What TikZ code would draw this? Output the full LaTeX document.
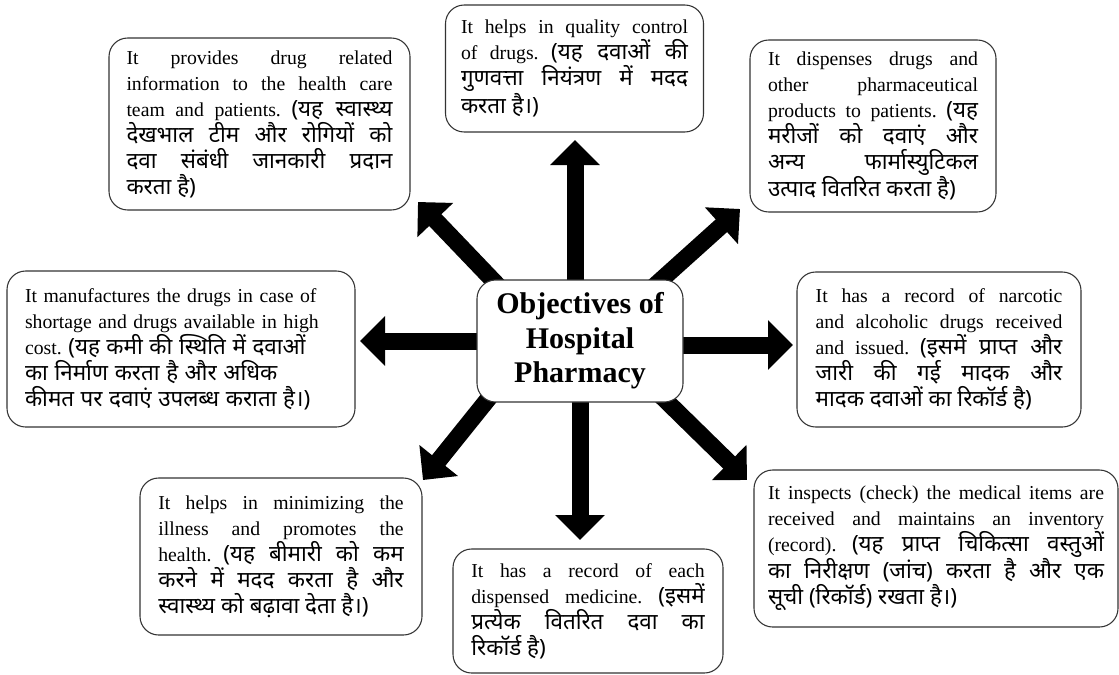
\documentclass[tikz,border=0pt]{standalone}
\usepackage{fontspec}
\setmainfont{Liberation Serif}
\newfontfamily\hi[Script=Devanagari,Scale=1.135]{Noto Sans}
\usetikzlibrary{arrows.meta,backgrounds}
\hyphenpenalty=10000
\exhyphenpenalty=10000
\tolerance=10000
\hbadness=10000
\lineskiplimit=-20pt
\frenchspacing
\tikzset{
  box/.style={draw=black!80, line width=0.8pt, rounded corners=14pt, fill=white,
    inner sep=0pt, anchor=center, align=justify,
    font=\fontsize{14.8}{19.5}\selectfont},
  titlebox/.style={box, align=center,
    font=\bfseries\fontsize{22.5}{26}\selectfont},
  bigarrow/.style={line width=12.75pt, -{Triangle[width=36pt,length=18.75pt]},
    shorten <=-14pt}
}
\begin{document}
\begin{tikzpicture}[x=0.75pt,y=-0.75pt]
\useasboundingbox (0,0) rectangle (1119,674);

\node[titlebox, minimum width=154.5pt, minimum height=91.5pt] (c) at (580,341)
  {Objectives of\\Hospital\\Pharmacy};

\node[box, minimum width=225.75pt, minimum height=129pt, text width=199.5pt] (b1) at (259.5,124)
  {It provides drug related \linebreak information to the health care \linebreak team and patients. {\hi(यह स्वास्थ्य \linebreak देखभाल टीम और रोगियों को \linebreak दवा संबंधी जानकारी प्रदान \linebreak करता है)}};

\node[box, minimum width=193.5pt, minimum height=95.25pt, text width=170.25pt] (b2) at (574.5,68.5)
  {It helps in quality control \linebreak of drugs. {\hi(यह दवाओं की \linebreak गुणवत्ता नियंत्रण में मदद \linebreak करता है।)}};

\node[box, minimum width=184.5pt, minimum height=129pt, text width=157.5pt] (b3) at (873,126)
  {It dispenses drugs and \linebreak other pharmaceutical \linebreak products to patients. {\hi(यह \linebreak मरीजों को दवाएं और \linebreak अन्य फार्मास्युटिकल \linebreak उत्पाद वितरित करता है)}};

\node[box, align=left, minimum width=261pt, minimum height=117pt, text width=234pt] (b4) at (181,349)
  {It manufactures the drugs in case of\\shortage and drugs available in high\\cost. {\hi(यह कमी की स्थिति में दवाओं}\\{\hi का निर्माण करता है और अधिक}\\{\hi कीमत पर दवाएं उपलब्ध कराता है।)}};

\node[box, minimum width=213pt, minimum height=116.25pt, text width=185pt] (b5) at (939,349.5)
  {It has a record of narcotic \linebreak and alcoholic drugs received \linebreak and issued. {\hi(इसमें प्राप्त और \linebreak जारी की गई मादक और \linebreak मादक दवाओं का रिकॉर्ड है)}};

\node[box, minimum width=211.5pt, minimum height=117.75pt, text width=184pt] (b7) at (281,556.5)
  {It helps in minimizing the \linebreak illness and promotes the \linebreak health. {\hi(यह बीमारी को कम \linebreak करने में मदद करता है और \linebreak स्वास्थ्य को बढ़ावा देता है।)}};

\node[box, minimum width=202.5pt, minimum height=93pt, text width=175pt] (b8) at (588,611)
  {It has a record of each \linebreak dispensed medicine. {\hi(इसमें \linebreak प्रत्येक वितरित दवा का \linebreak रिकॉर्ड है)}};

\node[box, minimum width=273pt, minimum height=117.75pt, text width=252pt] (b9) at (936,548.5)
  {It inspects (check) the medical items are \linebreak received and maintains an inventory \linebreak (record). {\hi(यह प्राप्त चिकित्सा वस्तुओं \linebreak का निरीक्षण (जांच) करता है और एक \linebreak सूची (रिकॉर्ड) रखता है।)}};

\coordinate (tU) at (575,140);
\coordinate (tUL) at (418,202);
\coordinate (tUR) at (740,209);
\coordinate (tL) at (360,341);
\coordinate (tR) at (793,345);
\coordinate (tDL) at (423,480);
\coordinate (tD) at (580,540);
\coordinate (tDR) at (747,480);

\begin{scope}[on background layer]
\draw[bigarrow] (c.north -| tU) -- (tU);
\draw[bigarrow] (c.145.6) -- (tUL);
\draw[bigarrow] (c.37) -- (tUR);
\draw[bigarrow] (c.west |- tL) -- (tL);
\draw[bigarrow] (c.east |- tR) -- (tR);
\draw[bigarrow] (c.213) -- (tDL);
\draw[bigarrow] (c.south -| tD) -- (tD);
\draw[bigarrow] (c.325.3) -- (tDR);
\end{scope}
\end{tikzpicture}
\end{document}
